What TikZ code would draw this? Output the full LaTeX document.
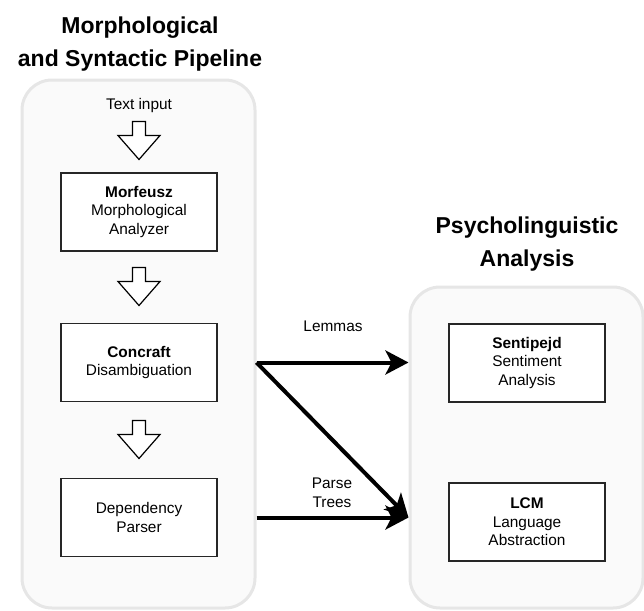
\documentclass[tikz,border=0pt]{standalone}
\usepackage{fontspec}
\setmainfont{Liberation Sans}
\usepackage{tikz}
\usetikzlibrary{arrows.meta}

\definecolor{panelline}{HTML}{E6E6E6}
\definecolor{panelfill}{HTML}{FAFAFA}

\tikzset{
  panel/.style={draw=panelline, fill=panelfill, line width=3pt, rounded corners=30pt},
  stage/.style={draw=black!85, line width=1.3pt, fill=white, minimum width=156pt,
    minimum height=78pt, align=center, font=\fontsize{15.4}{18.5}\selectfont},
  label/.style={align=center, font=\fontsize{15.4}{18.5}\selectfont},
  heading/.style={align=center, font=\fontsize{23}{33}\selectfont\bfseries},
  flow/.style={line width=4pt, -{Stealth[length=23pt, width=24pt, inset=6pt]}},
  hollow/.pic={
    \draw[line width=1.2pt, line join=miter, fill=white]
      (-6.5,-19) -- (6.5,-19) -- (6.5,-5) -- (21,-5) -- (0,19)
      -- (-21,-5) -- (-6.5,-5) -- cycle;
  }
}

\begin{document}
\begin{tikzpicture}[x=1pt, y=-1pt]
    \useasboundingbox (0,0) rectangle (644,610);

    % left column: the pipeline
    \node[heading] (pipetitle) at (140,44) {Morphological\\and Syntactic Pipeline};
    \node[panel, minimum width=233pt, minimum height=528pt] (pipeline) at (138.5,344) {};
    \node[label] (textin) at (139,106) {Text input};
    \node[stage] (morfeusz) at (139,212) {\textbf{Morfeusz}\\Morphological\\Analyzer};
    \node[stage] (concraft) at (139,362.5) {\textbf{Concraft}\\Disambiguation};
    \node[stage] (dependency) at (139,517.5) {Dependency\\Parser};
    \pic at (139,140.5) {hollow};
    \pic at (139,286.5) {hollow};
    \pic at (139,439.5) {hollow};

    % right column: the analysis
    \node[heading] (psychtitle) at (527,244) {Psycholinguistic\\Analysis};
    \node[panel, minimum width=233pt, minimum height=321pt] (psycho) at (526.5,447.5) {};
    \node[stage] (sentipejd) at (527,363) {\textbf{Sentipejd}\\Sentiment\\Analysis};
    \node[stage] (lcm) at (527,522) {\textbf{LCM}\\Language\\Abstraction};

    % connectors
    \draw[flow] (pipeline.east |- concraft) -- (psycho.west |- concraft);
    \draw[flow] (pipeline.east |- concraft) -- (psycho.west |- dependency);
    \draw[flow] (pipeline.east |- dependency) -- (psycho.west |- dependency);
    \node[label] (lemmas) at (333,326) {Lemmas};
    \node[label] (trees) at (332,493) {Parse\\Trees};
\end{tikzpicture}
\end{document}
